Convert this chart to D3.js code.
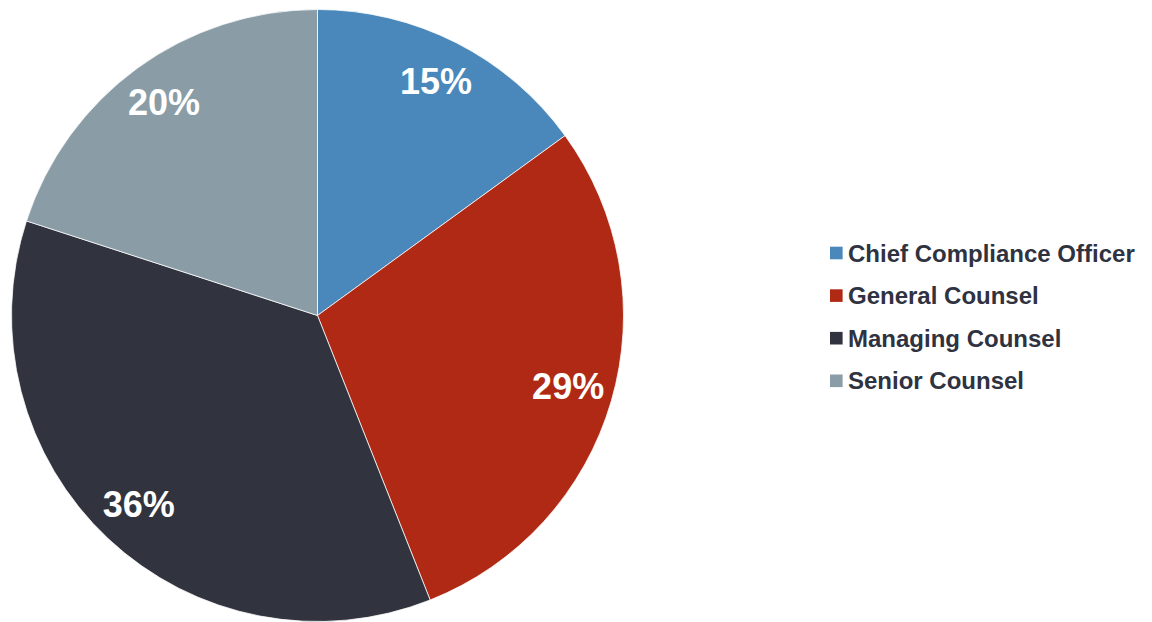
<!DOCTYPE html>
<html>
<head>
<meta charset="utf-8">
<script src="https://cdn.jsdelivr.net/npm/d3@7/dist/d3.min.js"></script>
<style>
  html, body { margin: 0; padding: 0; background: #ffffff; }
  svg { display: block; }
</style>
</head>
<body>
<svg id="chart" width="1152" height="622"></svg>
<script>
// Share of respondents by job title
const categories = ["Chief Compliance Officer", "General Counsel", "Managing Counsel", "Senior Counsel"];
const shares = [15, 29, 36, 20];
const colors = ["#4a87ba", "#b02914", "#31343e", "#8a9da7"];

const width = 1152, height = 622;
const cx = 317.5, cy = 315.5, radius = 306;

const svg = d3.select("#chart");

const pie = d3.pie().sort(null).value(d => d.value);
const data = categories.map((c, i) => ({ name: c, value: shares[i], color: colors[i] }));
const arcs = pie(data);

const arc = d3.arc().innerRadius(0).outerRadius(radius);
const labelArc = d3.arc().innerRadius(radius * 0.853).outerRadius(radius * 0.853);

const g = svg.append("g").attr("transform", `translate(${cx},${cy})`);

g.selectAll("path.slice")
  .data(arcs)
  .join("path")
  .attr("class", "slice")
  .attr("d", arc)
  .attr("fill", d => d.data.color)
  .attr("stroke", "#ffffff")
  .attr("stroke-width", 0.75)
  .attr("stroke-linejoin", "round");

g.selectAll("text.pct")
  .data(arcs)
  .join("text")
  .attr("class", "pct")
  .attr("transform", d => `translate(${labelArc.centroid(d)})`)
  .attr("text-anchor", "middle")
  .attr("dy", "0.30em")
  .attr("fill", "#ffffff")
  .attr("font-family", "'Liberation Sans', Arial, sans-serif")
  .attr("font-weight", "bold")
  .attr("font-size", 36)
  .text(d => d.data.value + "%");

// Legend
const legend = svg.append("g").attr("transform", "translate(830,246.7)");
const rowStep = 42.6;
const item = legend.selectAll("g.item")
  .data(data)
  .join("g")
  .attr("class", "item")
  .attr("transform", (d, i) => `translate(0,${i * rowStep})`);

item.append("rect")
  .attr("width", 12.6)
  .attr("height", 12.6)
  .attr("fill", d => d.color);

item.append("text")
  .attr("x", 18)
  .attr("y", 14.8)
  .attr("fill", "#2f3240")
  .attr("font-family", "'Liberation Sans', Arial, sans-serif")
  .attr("font-weight", "bold")
  .attr("font-size", 24)
  .text(d => d.name);
</script>
</body>
</html>
